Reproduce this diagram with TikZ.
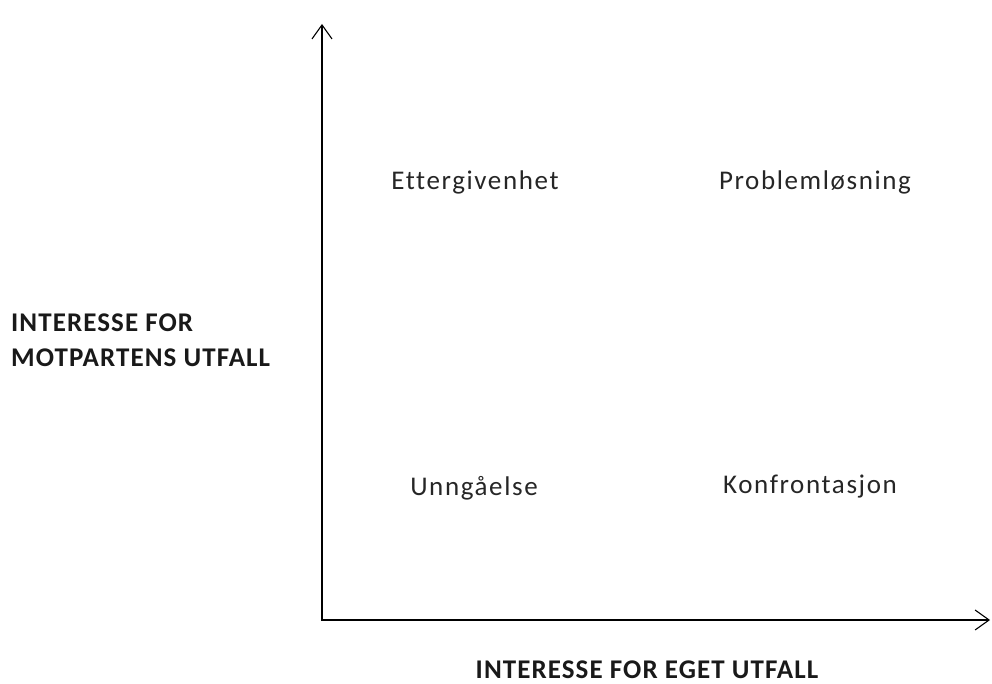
\documentclass[tikz,border=0pt]{standalone}
\usepackage{fontspec}
\setmainfont{Carlito}
\newfontfamily\quadfont[LetterSpace=6,Ligatures=NoCommon]{Carlito}
\newfontfamily\axisfont[LetterSpace=4,Ligatures=NoCommon]{Carlito}
\usetikzlibrary{arrows.meta}
\begin{document}
\begin{tikzpicture}[
    x=1pt, y=1pt,
    axis/.style={draw, line width=1.1pt, -{Straight Barb[length=14pt, width=20pt, line width=1.1pt]}},
    quadrant/.style={font=\quadfont\fontsize{27}{33}\selectfont, text=black!85, anchor=center, inner sep=0pt},
    axislabel/.style={font=\axisfont\fontsize{27}{35}\selectfont\bfseries, text=black!90, inner sep=0pt}
]
\useasboundingbox (0,0) rectangle (992,684);

\coordinate (Origin) at (322,64);
\coordinate (YTop) at (322,660);
\coordinate (XEnd) at (990,64);

\draw[axis] (Origin) -- (YTop);
\draw[axis] ([xshift=-0.55pt]Origin) -- (XEnd);

\node (Ettergivenhet) [quadrant] at (475,502) {Ettergivenhet};
\node (Problemlosning) [quadrant] at (815,502) {Problemløsning};
\node (Unngaelse) [quadrant] at (474,196) {Unngåelse};
\node (Konfrontasjon) [quadrant] at (810,197) {Konfrontasjon};

\node (YLabel) [axislabel, anchor=west, align=left] at (11,344) {INTERESSE FOR\\MOTPARTENS UTFALL};
\node (XLabel) [axislabel, anchor=base] at (647,5) {INTERESSE FOR EGET UTFALL};

\end{tikzpicture}
\end{document}
